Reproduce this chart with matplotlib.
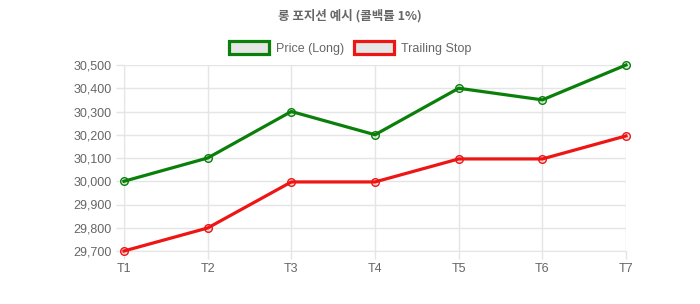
import matplotlib.pyplot as plt
from matplotlib.patches import Patch
from matplotlib.ticker import FuncFormatter

plt.rcParams['font.family'] = ['Liberation Sans', 'Noto Sans CJK KR', 'DejaVu Sans']

labels = ['T1', 'T2', 'T3', 'T4', 'T5', 'T6', 'T7']
price = [30000, 30100, 30300, 30200, 30400, 30350, 30500]
stop = [29700, 29799, 29997, 29997, 30096, 30096, 30195]
y_ticks = [29700, 29800, 29900, 30000, 30100, 30200, 30300, 30400, 30500]

GREEN = '#0a800a'
RED = '#ee1515'
TXT = '#666666'
GRID = '#e5e5e5'

fig = plt.figure(figsize=(7, 3.04), dpi=100)
ax = fig.add_axes([124 / 700, 1 - 251 / 304, (626 - 124) / 700, (251 - 65) / 304])

x = range(len(labels))
ax.plot(x, price, color=GREEN, lw=2.3, marker='o', ms=5.5,
        mfc=(0, 0.5, 0, 0.12), mec=GREEN, mew=1, zorder=3, clip_on=False)
ax.plot(x, stop, color=RED, lw=2.3, marker='o', ms=5.5,
        mfc=(1, 0, 0, 0.12), mec=RED, mew=1, zorder=3, clip_on=False)

ax.set_xlim(0, len(labels) - 1)
ax.set_ylim(29700, 30500)
ax.set_xticks(list(x))
ax.set_xticklabels(labels)
ax.set_yticks(y_ticks)
ax.yaxis.set_major_formatter(FuncFormatter(lambda v, p: f'{int(v):,}'))
ax.tick_params(colors=GRID, labelcolor=TXT, labelsize=9, length=6, width=1, pad=3)
ax.grid(True, color=GRID, lw=1)
for s in ax.spines.values():
    s.set_visible(False)
ax.spines['left'].set_visible(True)
ax.spines['left'].set_color(GRID)
ax.spines['bottom'].set_visible(True)
ax.spines['bottom'].set_color(GRID)

fig.text(0.5, 1 - 16 / 304, '롱 포지션 예시 (콜백률 1%)', ha='center', va='center',
         fontsize=9, fontweight='bold', color=TXT,
         family=['Noto Sans CJK KR', 'DejaVu Sans'])

handles = [
    Patch(facecolor='#e6e6e6', edgecolor=GREEN, lw=2.3, label='Price (Long)'),
    Patch(facecolor='#e6e6e6', edgecolor=RED, lw=2.3, label='Trailing Stop'),
]
leg = fig.legend(handles=handles, loc='center', bbox_to_anchor=(0.5, 1 - 48 / 304),
                 ncol=2, frameon=False, fontsize=9, handlelength=3.2, handleheight=1.15,
                 handletextpad=0.55, columnspacing=0.8, labelcolor=TXT)

fig.savefig('out.png', dpi=100)
